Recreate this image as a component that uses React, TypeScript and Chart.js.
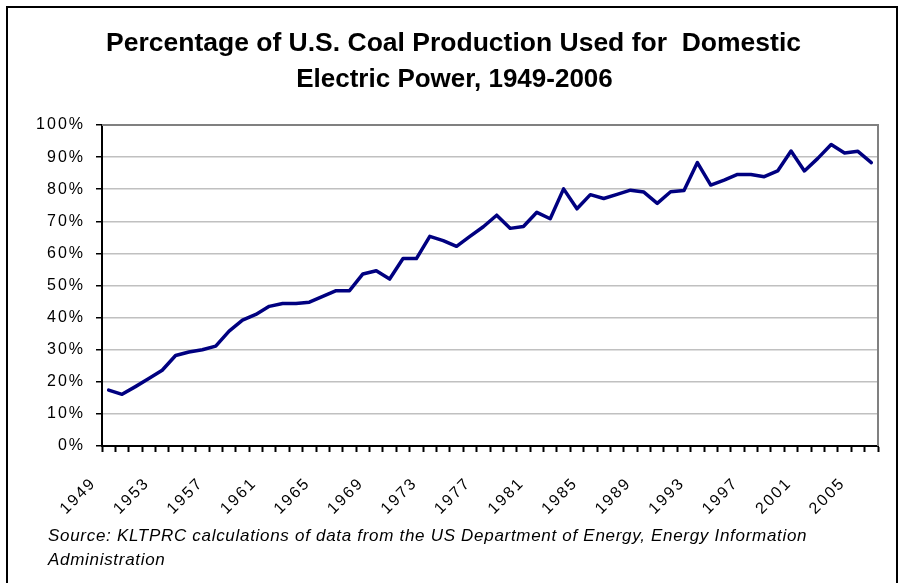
import React, { useEffect, useRef } from "react";
import { Chart, registerables } from "chart.js";

Chart.register(...registerables);

const years: string[] = [];
for (let y = 1949; y <= 2006; y++) years.push(String(y));

const sharePct: number[] = [
  17.4, 16.1, 18.5, 21.0, 23.6, 28.2, 29.3, 30.0, 31.1, 35.8,
  39.2, 41.0, 43.5, 44.4, 44.4, 44.8, 46.6, 48.4, 48.4, 53.6,
  54.6, 52.0, 58.4, 58.4, 65.3, 64.0, 62.2, 65.3, 68.3, 71.9,
  67.8, 68.4, 72.8, 70.8, 80.1, 73.9, 78.3, 77.1, 78.4, 79.7,
  79.1, 75.6, 79.2, 79.6, 88.3, 81.3, 82.8, 84.6, 84.6, 83.9,
  85.7, 91.9, 85.7, 89.6, 93.9, 91.3, 91.8, 88.3,
];

const shownYearLabels: string[] = [
  "1949", "1953", "1957", "1961", "1965", "1969", "1973", "1977",
  "1981", "1985", "1989", "1993", "1997", "2001", "2005",
];

const titleLines: string[] = [
  "Percentage of U.S. Coal Production Used for  Domestic",
  "Electric Power, 1949-2006",
];

const sourceLines: string[] = [
  "Source: KLTPRC calculations of data from the US Department of Energy, Energy Information",
  "Administration",
];

const FONT = "'Liberation Sans', Arial, Helvetica, sans-serif";

const framePlugin = {
  id: "frame",
  beforeDraw(chart: any) {
    const ctx = chart.ctx;
    ctx.fillStyle = "#ffffff";
    ctx.fillRect(0, 0, chart.width, chart.height);
    (ctx as any).letterSpacing = "2px";
  },
  beforeDatasetsDraw(chart: any) {
    const ctx = chart.ctx;
    const a = chart.chartArea;
    ctx.save();
    ctx.strokeStyle = "#808080";
    ctx.lineWidth = 2;
    ctx.beginPath();
    ctx.moveTo(a.left, a.top);
    ctx.lineTo(a.right, a.top);
    ctx.lineTo(a.right, a.bottom);
    ctx.stroke();
    ctx.restore();
  },
  afterDraw(chart: any) {
    const ctx = chart.ctx;
    ctx.save();
    (ctx as any).letterSpacing = "0px";
    // outer frame
    ctx.strokeStyle = "#000000";
    ctx.lineWidth = 2;
    ctx.beginPath();
    ctx.moveTo(7, 600);
    ctx.lineTo(7, 7);
    ctx.lineTo(897, 7);
    ctx.lineTo(897, 600);
    ctx.stroke();
    // title
    ctx.fillStyle = "#000000";
    ctx.textAlign = "center";
    ctx.textBaseline = "alphabetic";
    ctx.font = `bold 26.5px ${FONT}`;
    ctx.fillText(titleLines[0], 453.5, 51);
    ctx.font = `bold 26px ${FONT}`;
    ctx.fillText(titleLines[1], 454.5, 87);
    // source
    ctx.textAlign = "left";
    ctx.font = `italic 17px ${FONT}`;
    (ctx as any).letterSpacing = "0.7px";
    ctx.fillText(sourceLines[0], 48, 541);
    ctx.fillText(sourceLines[1], 48, 565);
    ctx.restore();
  },
};

export default function App() {
  const canvasRef = useRef<HTMLCanvasElement | null>(null);

  useEffect(() => {
    document.body.style.margin = "0";
    const canvas = canvasRef.current;
    if (!canvas) return;
    const chart = new Chart(canvas, {
      type: "line",
      data: {
        labels: years,
        datasets: [
          {
            data: sharePct,
            borderColor: "#000080",
            borderWidth: 3.5,
            borderJoinStyle: "round",
            borderCapStyle: "round",
            pointRadius: 0,
            pointHoverRadius: 0,
            tension: 0,
            fill: false,
          },
        ],
      },
      options: {
        animation: false,
        responsive: true,
        maintainAspectRatio: false,
        devicePixelRatio: 1,
        events: [],
        layout: { padding: { top: 125, left: 0, right: 22, bottom: 47 } },
        plugins: {
          legend: { display: false },
          title: { display: false },
          tooltip: { enabled: false },
        },
        scales: {
          x: {
            type: "category",
            offset: true,
            afterFit(scale: any) {
              scale.height = 90;
              scale.paddingLeft = 0;
              scale.paddingRight = 0;
            },
            grid: {
              display: true,
              offset: true,
              drawOnChartArea: false,
              drawTicks: true,
              tickLength: 6,
              tickColor: "#000000",
              tickWidth: 2,
            },
            border: { display: true, color: "#000000", width: 2 },
            ticks: {
              autoSkip: false,
              maxRotation: 45,
              minRotation: 45,
              padding: 22,
              labelOffset: -15,
              color: "#000000",
              font: { family: FONT, size: 16 },
              callback(_v: any, index: number) {
                const lbl = years[index];
                return shownYearLabels.includes(lbl) ? lbl : "";
              },
            },
          },
          y: {
            min: 0,
            max: 100,
            afterFit(scale: any) {
              scale.width = 102;
            },
            grid: {
              color: (c: any) => (c.tick && c.tick.value === 100 ? "#808080" : "#c0c0c0"),
              lineWidth: 1.5,
              drawTicks: true,
              tickLength: 6,
              tickColor: "#000000",
              tickWidth: 1.5,
            },
            border: { display: true, color: "#000000", width: 2 },
            ticks: {
              stepSize: 10,
              padding: 11,
              color: "#000000",
              font: { family: FONT, size: 16 },
              callback(v: any) {
                return `${v}%`;
              },
            },
          },
        },
      },
      plugins: [framePlugin],
    } as any);
    return () => {
      chart.destroy();
    };
  }, []);

  return (
    <div style={{ position: "relative", width: "900px", height: "583px" }}>
      <canvas ref={canvasRef} />
    </div>
  );
}
